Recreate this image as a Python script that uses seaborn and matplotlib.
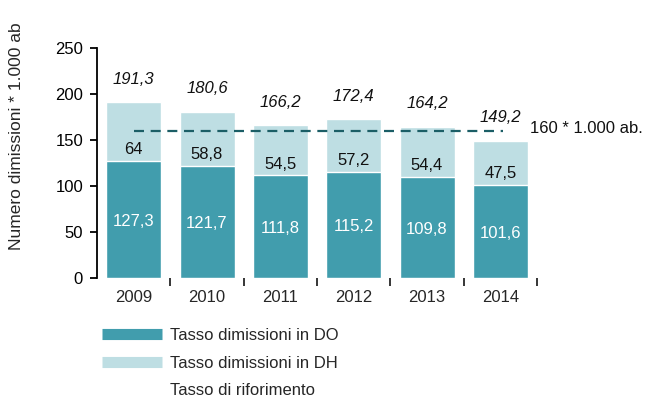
import matplotlib
matplotlib.use("Agg")
import matplotlib.pyplot as plt
import seaborn as sns
import pandas as pd
from matplotlib.lines import Line2D

years = ["2009", "2010", "2011", "2012", "2013", "2014"]
do_vals = [127.3, 121.7, 111.8, 115.2, 109.8, 101.6]
dii_vals = [64, 58.8, 54.5, 57.2, 54.4, 47.5]
total_labels = ["191,3", "180,6", "166,2", "172,4", "164,2", "149,2"]
do_labels = ["127,3", "121,7", "111,8", "115,2", "109,8", "101,6"]
dii_labels = ["64", "58,8", "54,5", "57,2", "54,4", "47,5"]
threshold = 160
threshold_label = "160 * 1.000 ab."
ylabel = "Numero dimissioni * 1.000 ab"
legend_labels = ["Tasso dimissioni in DO", "Tasso dimissioni in DH", "Tasso di riforimento"]

sns.set_style("white")
plt.rcParams["font.family"] = ["Liberation Sans", "DejaVu Sans"]

DARK = "#419DAD"
LIGHT = "#BEDEE3"
LINE = "#1B5E66"

df = pd.DataFrame({"year": years, "do": do_vals, "dii": dii_vals})
df["total"] = df["do"] + df["dii"]

fig = plt.figure(figsize=(6.58, 4.04), dpi=100)
ax = fig.add_axes([97 / 658, 1 - 278 / 404, 440 / 658, 230 / 404])

sns.barplot(data=df, x="year", y="total", color=LIGHT, width=0.75,
            saturation=1, ax=ax, errorbar=None)
sns.barplot(data=df, x="year", y="do", color=DARK, width=0.75,
            saturation=1, ax=ax, errorbar=None)

fs = 12
for i in range(len(years)):
    ax.text(i, do_vals[i] / 2 - 2, do_labels[i], ha="center", va="center",
            color="white", fontsize=fs)
    ax.text(i, do_vals[i] + 12, dii_labels[i], ha="center", va="center",
            color="#111111", fontsize=fs)
    ax.text(i, do_vals[i] + dii_vals[i] + 25, total_labels[i], ha="center",
            va="center", color="#111111", fontsize=fs, style="italic")

ax.plot([0, len(years) - 1 + 0.04], [threshold, threshold], ls=(0, (4.5, 3)),
        color=LINE, lw=1.6)
ax.text(5.4, threshold + 2, threshold_label, ha="left",
        va="center", fontsize=fs, color="#111111", clip_on=False)

ax.set_xlim(-0.5, len(years) - 0.5)
ax.set_ylim(0, 250)
ax.set_yticks([0, 50, 100, 150, 200, 250])
ax.set_xlabel("")
ax.set_ylabel(ylabel, fontsize=12.5)
ax.yaxis.set_label_coords(-0.166, 0.615)
for s in ["top", "right", "bottom"]:
    ax.spines[s].set_visible(False)
ax.spines["left"].set_color("black")
ax.spines["left"].set_linewidth(1.3)
ax.tick_params(axis="y", direction="out", length=5, width=1.3, labelsize=fs,
               left=True, pad=5, colors="black")
ax.set_xticks(range(len(years)))
ax.set_xticklabels(years)
ax.tick_params(axis="x", length=0, labelsize=fs, pad=9)
ax.set_xticks([i + 0.5 for i in range(len(years))], minor=True)
ax.tick_params(axis="x", which="minor", direction="out", length=6, width=1.3,
               bottom=True)

handles = [
    Line2D([], [], color=DARK, lw=8, solid_capstyle="butt"),
    Line2D([], [], color=LIGHT, lw=8, solid_capstyle="butt"),
    Line2D([], [], color="none", lw=8),
]
fig.legend(handles, legend_labels, loc="upper left",
           bbox_to_anchor=(102 / 658, 1 - 328 / 404), frameon=False,
           borderpad=0, borderaxespad=0, handlelength=3.6, handletextpad=0.45,
           labelspacing=0.75, fontsize=fs)

fig.savefig("out.png", dpi=100)
